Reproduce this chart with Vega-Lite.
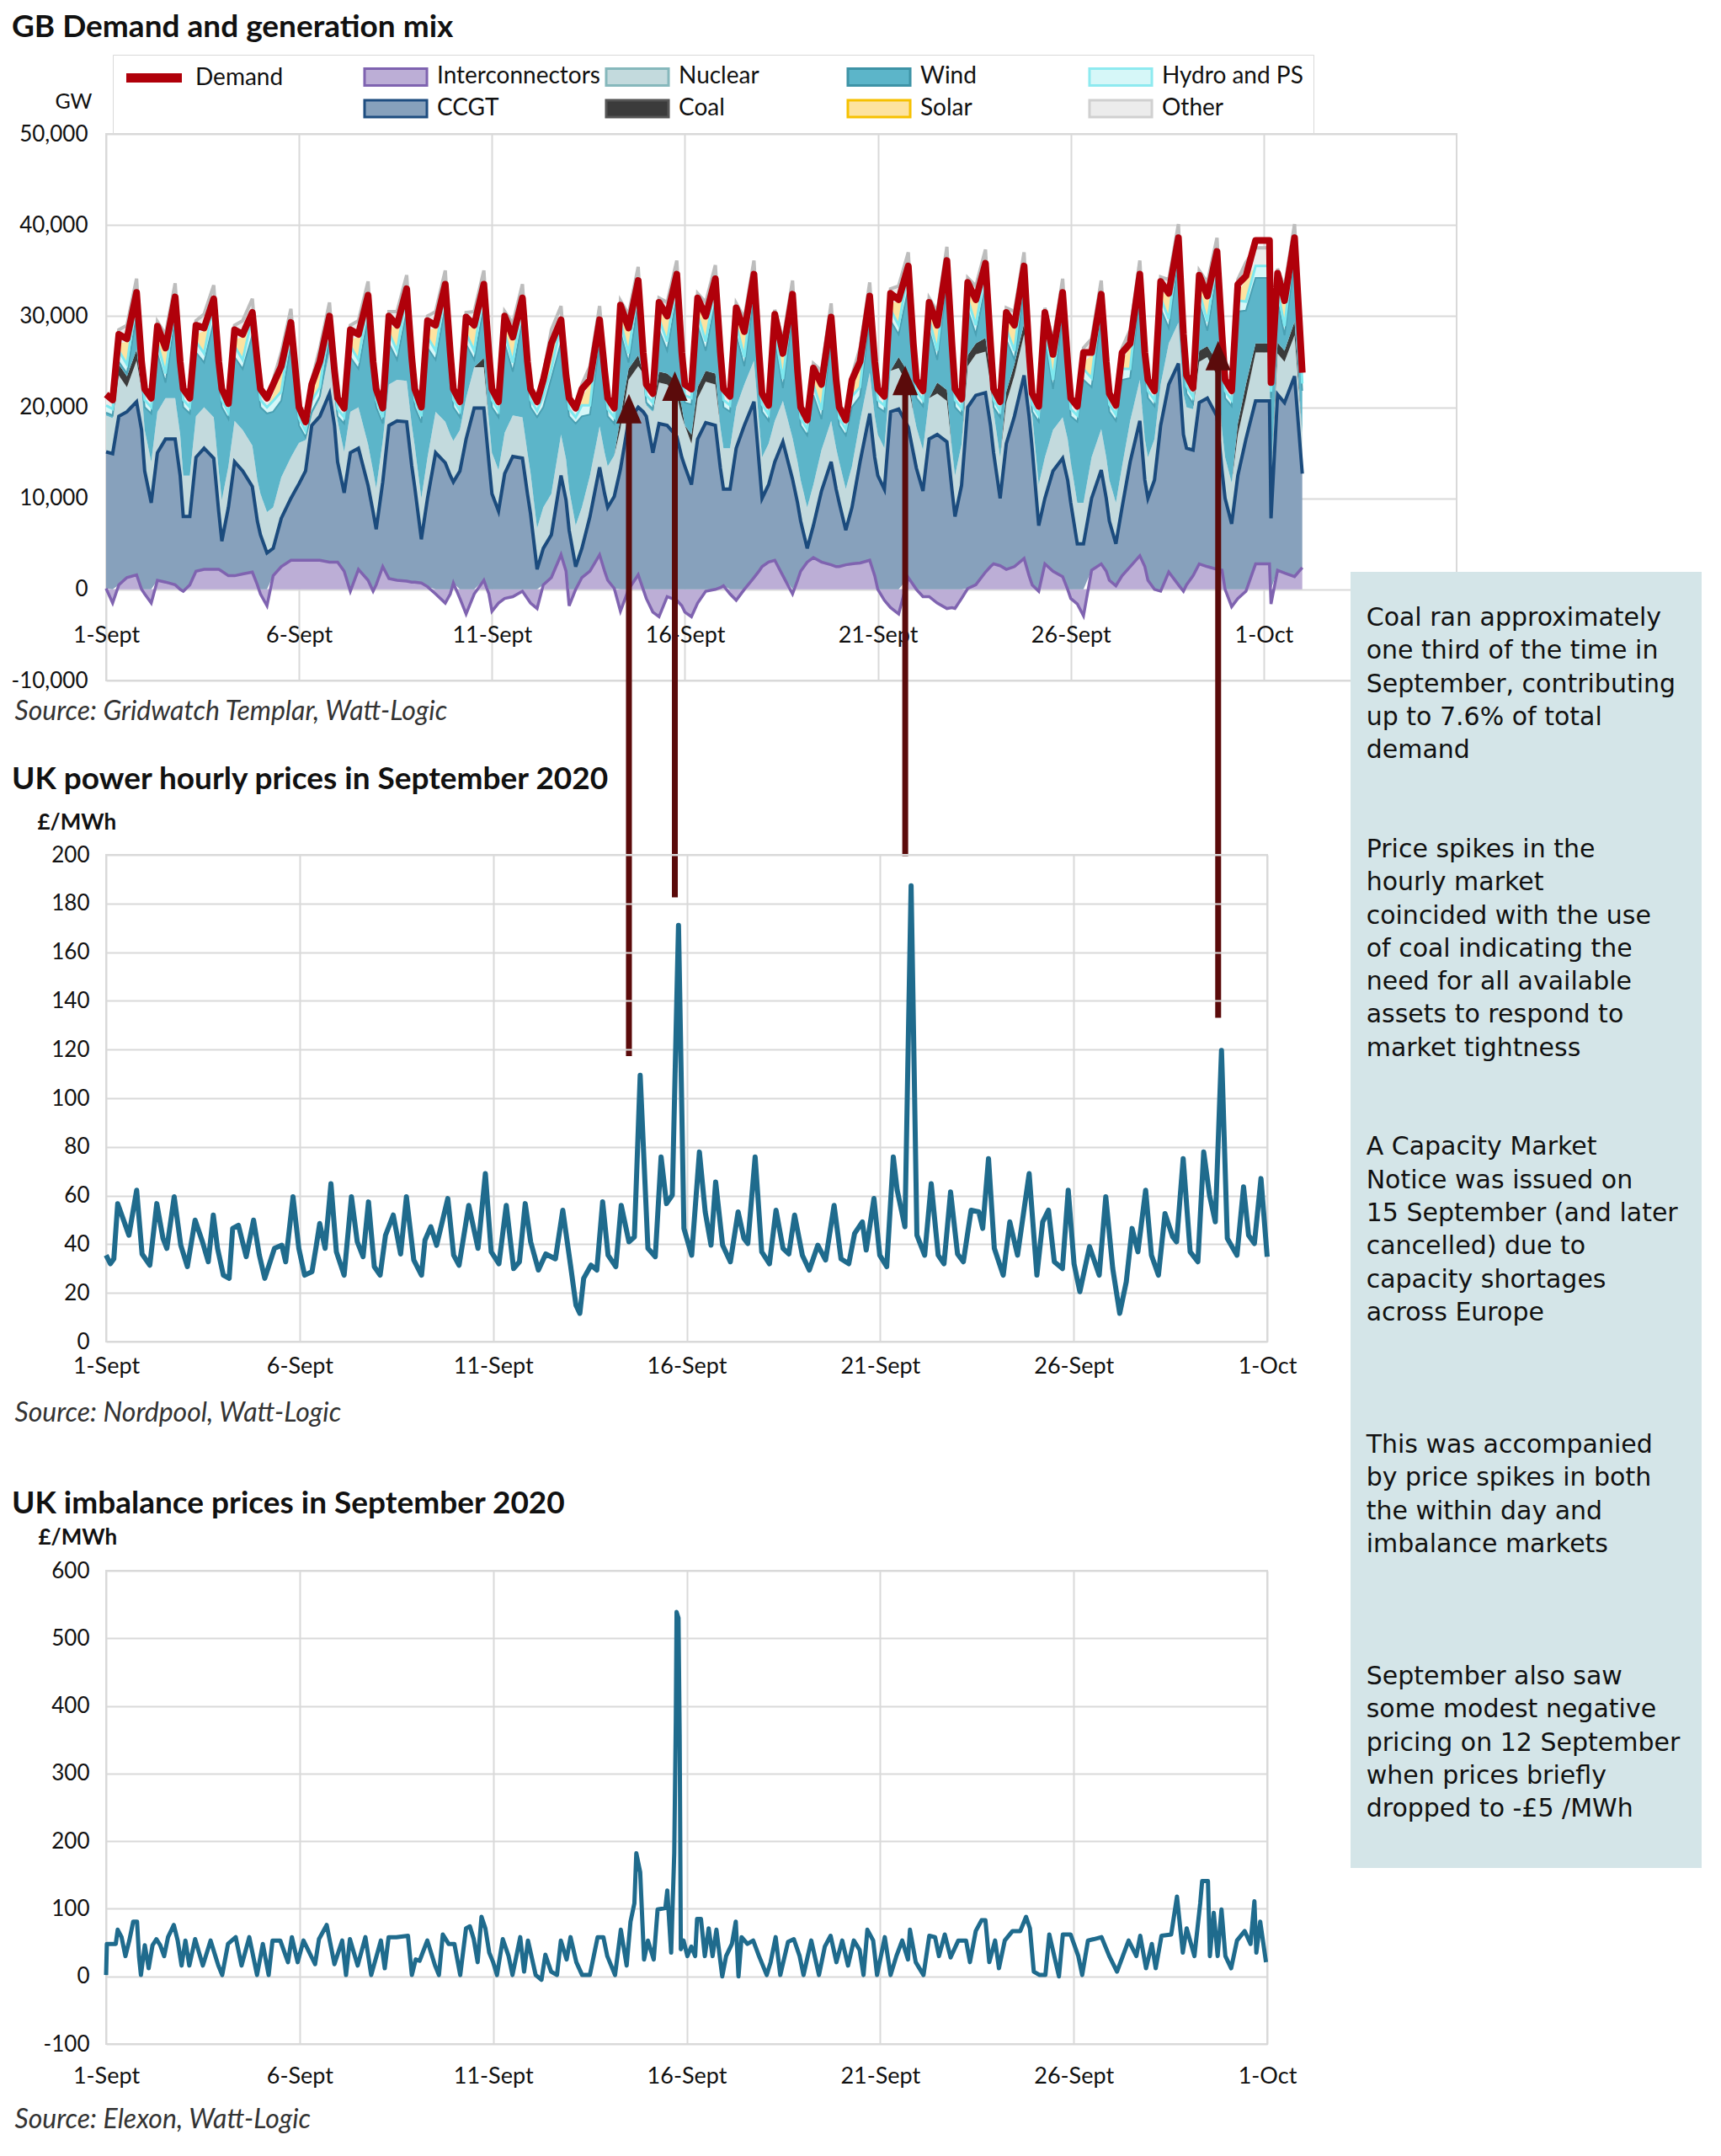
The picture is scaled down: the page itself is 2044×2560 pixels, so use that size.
{
"$schema":"https://vega.github.io/schema/vega-lite/v6.json",
"padding":{"left":12,"top":13,"right":0,"bottom":0},
"background":"white",
"datasets":{
"gen":[
{"d":0,"ic":0.1,"cc":15,"nu":4,"co":0,"wi":0.3,"hy":0.8,"so":0,"ot":1.2,"dm":21.4},
{"d":0.17,"ic":-1.5,"cc":14.9,"nu":3.9,"co":0,"wi":0.3,"hy":0.7,"so":0,"ot":1,"dm":20.8},
{"d":0.33,"ic":0.5,"cc":18.5,"nu":4.5,"co":1.2,"wi":0.3,"hy":1.2,"so":0.8,"ot":1.5,"dm":28},
{"d":0.54,"ic":1.3,"cc":18.2,"nu":2.7,"co":1.2,"wi":0.3,"hy":1,"so":2.5,"ot":1.8,"dm":27.5},
{"d":0.79,"ic":1.6,"cc":19,"nu":4.5,"co":1.2,"wi":3.8,"hy":2,"so":0.2,"ot":1.8,"dm":32.6},
{"d":0.92,"ic":0,"cc":17.5,"nu":4.5,"co":0,"wi":1,"hy":1,"so":0,"ot":1.3,"dm":25},
{"d":1,"ic":-0.5,"cc":13,"nu":4.5,"co":0,"wi":2.5,"hy":0.8,"so":0,"ot":1.2,"dm":22},
{"d":1.17,"ic":-1.5,"cc":9.5,"nu":4.5,"co":0,"wi":5.3,"hy":0.7,"so":0,"ot":1,"dm":21},
{"d":1.33,"ic":1,"cc":14,"nu":4.5,"co":0,"wi":6.4,"hy":1.2,"so":0.8,"ot":1.5,"dm":28.9},
{"d":1.54,"ic":0.8,"cc":15.7,"nu":4.5,"co":0,"wi":1.7,"hy":1,"so":2.5,"ot":1.8,"dm":26.5},
{"d":1.79,"ic":0.5,"cc":16,"nu":4.5,"co":0,"wi":8.6,"hy":2,"so":0.2,"ot":1.8,"dm":32.1},
{"d":1.92,"ic":0,"cc":12.5,"nu":4.5,"co":0,"wi":6,"hy":1,"so":0,"ot":1.3,"dm":25},
{"d":2,"ic":-0.2,"cc":8,"nu":4.5,"co":0,"wi":7.5,"hy":0.8,"so":0,"ot":1.2,"dm":22},
{"d":2.17,"ic":0.5,"cc":7.5,"nu":4.5,"co":0,"wi":6.8,"hy":0.7,"so":0,"ot":1,"dm":21},
{"d":2.33,"ic":2,"cc":12.5,"nu":4.5,"co":0,"wi":7,"hy":1.2,"so":0.8,"ot":1.5,"dm":29},
{"d":2.54,"ic":2.2,"cc":13.3,"nu":4.5,"co":0,"wi":4.9,"hy":1,"so":2.5,"ot":1.8,"dm":28.7},
{"d":2.79,"ic":2.2,"cc":12.2,"nu":4.5,"co":0,"wi":10.5,"hy":2,"so":0.2,"ot":1.8,"dm":31.9},
{"d":2.92,"ic":2.2,"cc":6.3,"nu":4.5,"co":0,"wi":10,"hy":1,"so":0,"ot":1.3,"dm":25},
{"d":3,"ic":2,"cc":3.3,"nu":4.5,"co":0,"wi":10.2,"hy":0.8,"so":0,"ot":1.2,"dm":22},
{"d":3.17,"ic":1.5,"cc":7.5,"nu":4.5,"co":0,"wi":5.2,"hy":0.7,"so":0,"ot":1,"dm":20.4},
{"d":3.33,"ic":1.5,"cc":12.5,"nu":4.5,"co":0,"wi":7,"hy":1.2,"so":0.8,"ot":1.5,"dm":28.5},
{"d":3.54,"ic":1.7,"cc":11.3,"nu":4.5,"co":0,"wi":6.7,"hy":1,"so":2.5,"ot":1.8,"dm":28},
{"d":3.79,"ic":1.9,"cc":9.4,"nu":4.5,"co":0,"wi":12.1,"hy":2,"so":0.2,"ot":1.8,"dm":30.4},
{"d":3.92,"ic":0.5,"cc":7,"nu":4.5,"co":0,"wi":11,"hy":1,"so":0,"ot":1.3,"dm":25},
{"d":4,"ic":-0.5,"cc":6,"nu":4.5,"co":0,"wi":9.5,"hy":0.8,"so":0,"ot":1.2,"dm":22},
{"d":4.17,"ic":-1.8,"cc":4,"nu":4.5,"co":0,"wi":10.8,"hy":0.7,"so":0,"ot":1,"dm":21},
{"d":4.33,"ic":1.5,"cc":3,"nu":4.5,"co":0,"wi":10.5,"hy":1.2,"so":0.8,"ot":1.5,"dm":22.5},
{"d":4.54,"ic":2.5,"cc":5.3,"nu":4.5,"co":0,"wi":8.4,"hy":1,"so":2.5,"ot":1.8,"dm":24.5},
{"d":4.79,"ic":3.2,"cc":6.8,"nu":4.5,"co":0,"wi":12.3,"hy":2,"so":0.2,"ot":1.8,"dm":29.3},
{"d":4.92,"ic":3.2,"cc":7.8,"nu":4.5,"co":0,"wi":6,"hy":1,"so":0,"ot":1.3,"dm":23.5},
{"d":5,"ic":3.2,"cc":8.4,"nu":4.5,"co":0,"wi":1.9,"hy":0.8,"so":0,"ot":1.2,"dm":20},
{"d":5.17,"ic":3.2,"cc":9.8,"nu":3.4,"co":0,"wi":0.3,"hy":0.7,"so":0,"ot":1,"dm":18.4},
{"d":5.33,"ic":3.2,"cc":14.8,"nu":1.2,"co":0,"wi":0.3,"hy":1.2,"so":0.8,"ot":1.5,"dm":22.5},
{"d":5.54,"ic":3.2,"cc":15.8,"nu":1.9,"co":0,"wi":0.3,"hy":1,"so":2.5,"ot":1.8,"dm":25},
{"d":5.79,"ic":3,"cc":18.5,"nu":4.5,"co":0,"wi":1.5,"hy":2,"so":0.2,"ot":1.8,"dm":30},
{"d":5.92,"ic":3,"cc":15,"nu":3.7,"co":0,"wi":0.3,"hy":1,"so":0,"ot":1.3,"dm":24},
{"d":6,"ic":3,"cc":11,"nu":4.5,"co":0,"wi":0.5,"hy":0.8,"so":0,"ot":1.2,"dm":21},
{"d":6.17,"ic":2,"cc":8.6,"nu":4.5,"co":0,"wi":3.1,"hy":0.7,"so":0,"ot":1,"dm":19.9},
{"d":6.33,"ic":-0.2,"cc":15,"nu":4.5,"co":0,"wi":6,"hy":1.2,"so":0.8,"ot":1.5,"dm":28.5},
{"d":6.54,"ic":2.2,"cc":13.3,"nu":4.5,"co":0,"wi":4.2,"hy":1,"so":2.5,"ot":1.8,"dm":28},
{"d":6.79,"ic":1,"cc":10.4,"nu":4.5,"co":0,"wi":13.9,"hy":2,"so":0.2,"ot":1.8,"dm":32.3},
{"d":6.92,"ic":-0.2,"cc":8.5,"nu":4.5,"co":0,"wi":10,"hy":1,"so":0,"ot":1.3,"dm":25},
{"d":7,"ic":0.5,"cc":6.1,"nu":4.5,"co":0,"wi":8.9,"hy":0.8,"so":0,"ot":1.2,"dm":22},
{"d":7.17,"ic":2.5,"cc":9.3,"nu":4.5,"co":0,"wi":1.9,"hy":0.7,"so":0,"ot":1,"dm":19.9},
{"d":7.33,"ic":1.2,"cc":16.8,"nu":4.5,"co":0,"wi":4.5,"hy":1.2,"so":0.8,"ot":1.5,"dm":30},
{"d":7.54,"ic":1,"cc":17.5,"nu":4.5,"co":0,"wi":2.2,"hy":1,"so":2.5,"ot":1.8,"dm":29},
{"d":7.79,"ic":0.9,"cc":17.5,"nu":4.5,"co":0,"wi":7.6,"hy":2,"so":0.2,"ot":1.8,"dm":33},
{"d":7.92,"ic":0.8,"cc":12.8,"nu":4.5,"co":0,"wi":5.4,"hy":1,"so":0,"ot":1.3,"dm":25.5},
{"d":8,"ic":0.8,"cc":10.4,"nu":4.5,"co":0,"wi":4.3,"hy":0.8,"so":0,"ot":1.2,"dm":22},
{"d":8.17,"ic":0.7,"cc":4.8,"nu":4.5,"co":0,"wi":8.3,"hy":0.7,"so":0,"ot":1,"dm":20},
{"d":8.33,"ic":0.3,"cc":9.7,"nu":4.5,"co":0,"wi":12,"hy":1.2,"so":0.8,"ot":1.5,"dm":29.5},
{"d":8.54,"ic":-0.5,"cc":15,"nu":4.5,"co":0,"wi":5.7,"hy":1,"so":2.5,"ot":1.8,"dm":29},
{"d":8.79,"ic":-1.5,"cc":13.9,"nu":4.5,"co":0,"wi":12.6,"hy":2,"so":0.2,"ot":1.8,"dm":33.5},
{"d":8.92,"ic":-0.5,"cc":12.5,"nu":4.5,"co":0,"wi":7,"hy":1,"so":0,"ot":1.3,"dm":26},
{"d":9,"ic":0.7,"cc":11.1,"nu":4.5,"co":0,"wi":3.7,"hy":0.8,"so":0,"ot":1.2,"dm":22},
{"d":9.17,"ic":-1,"cc":13,"nu":4.5,"co":0,"wi":1.4,"hy":0.7,"so":0,"ot":1,"dm":20.6},
{"d":9.33,"ic":-2.7,"cc":16.5,"nu":4.5,"co":0,"wi":5.9,"hy":1.2,"so":0.8,"ot":1.5,"dm":29.9},
{"d":9.54,"ic":-0.5,"cc":19.9,"nu":4.5,"co":0,"wi":0.8,"hy":1,"so":2.5,"ot":1.8,"dm":29},
{"d":9.79,"ic":1,"cc":18.9,"nu":4.5,"co":1,"wi":5.6,"hy":2,"so":0.2,"ot":1.8,"dm":33.5},
{"d":9.92,"ic":-0.5,"cc":14,"nu":4.5,"co":0,"wi":5.5,"hy":1,"so":0,"ot":1.3,"dm":26},
{"d":10,"ic":-2.4,"cc":10.5,"nu":4.5,"co":0,"wi":5,"hy":0.8,"so":0,"ot":1.2,"dm":22},
{"d":10.17,"ic":-1.5,"cc":8.6,"nu":4.5,"co":0,"wi":5.8,"hy":0.7,"so":0,"ot":1,"dm":20.6},
{"d":10.33,"ic":-1,"cc":12.7,"nu":4.5,"co":0,"wi":9.8,"hy":1.2,"so":0.8,"ot":1.5,"dm":30},
{"d":10.54,"ic":-0.8,"cc":14.6,"nu":4.5,"co":0,"wi":4.8,"hy":1,"so":2.5,"ot":1.8,"dm":27.7},
{"d":10.79,"ic":-0.2,"cc":14.4,"nu":4.5,"co":0,"wi":10.6,"hy":2,"so":0.2,"ot":1.8,"dm":32},
{"d":10.92,"ic":-1,"cc":10.5,"nu":4.5,"co":0,"wi":8,"hy":1,"so":0,"ot":1.3,"dm":25},
{"d":11,"ic":-1.5,"cc":8.3,"nu":4.5,"co":0,"wi":7.2,"hy":0.8,"so":0,"ot":1.2,"dm":22},
{"d":11.17,"ic":-2.1,"cc":2.2,"nu":4.5,"co":0,"wi":12.2,"hy":0.7,"so":0,"ot":1,"dm":20.6},
{"d":11.33,"ic":0.5,"cc":4,"nu":4.5,"co":0,"wi":11,"hy":1.2,"so":0.8,"ot":1.5,"dm":23},
{"d":11.54,"ic":1.3,"cc":4.7,"nu":4.5,"co":0,"wi":12.7,"hy":1,"so":2.5,"ot":1.8,"dm":27},
{"d":11.79,"ic":3.8,"cc":8.7,"nu":4.5,"co":0,"wi":10.1,"hy":2,"so":0.2,"ot":1.8,"dm":29.6},
{"d":11.92,"ic":2,"cc":7.8,"nu":4.5,"co":0,"wi":7.2,"hy":1,"so":0,"ot":1.3,"dm":23.5},
{"d":12,"ic":-1.8,"cc":6.5,"nu":4.5,"co":0,"wi":8,"hy":0.8,"so":0,"ot":1.2,"dm":21},
{"d":12.17,"ic":0,"cc":2.5,"nu":4.5,"co":0,"wi":11.2,"hy":0.7,"so":0,"ot":1,"dm":19.9},
{"d":12.33,"ic":1.3,"cc":3.2,"nu":4.5,"co":0,"wi":10,"hy":1.2,"so":0.8,"ot":1.5,"dm":22},
{"d":12.54,"ic":2,"cc":6,"nu":4.5,"co":0,"wi":6.7,"hy":1,"so":2.5,"ot":1.8,"dm":23},
{"d":12.79,"ic":3.8,"cc":9.6,"nu":4.5,"co":0,"wi":9.2,"hy":2,"so":0.2,"ot":1.8,"dm":29.6},
{"d":12.92,"ic":2,"cc":8.5,"nu":4.5,"co":0,"wi":7,"hy":1,"so":0,"ot":1.3,"dm":24},
{"d":13,"ic":1,"cc":8,"nu":4.5,"co":0,"wi":5.5,"hy":0.8,"so":0,"ot":1.2,"dm":21},
{"d":13.17,"ic":0.1,"cc":10.1,"nu":4.5,"co":0,"wi":3.5,"hy":0.7,"so":0,"ot":1,"dm":19.9},
{"d":13.33,"ic":-2.4,"cc":13.2,"nu":4.5,"co":1.2,"wi":9.3,"hy":1.2,"so":0.8,"ot":1.5,"dm":31.2},
{"d":13.54,"ic":0,"cc":18.5,"nu":4.5,"co":1.2,"wi":0.7,"hy":1,"so":2.5,"ot":1.8,"dm":28.7},
{"d":13.79,"ic":1.6,"cc":18.4,"nu":4.5,"co":1.2,"wi":5.7,"hy":2,"so":0.2,"ot":1.8,"dm":33.9},
{"d":13.92,"ic":0,"cc":19.5,"nu":4.2,"co":0,"wi":0.3,"hy":1,"so":0,"ot":1.3,"dm":26},
{"d":14,"ic":-1,"cc":19,"nu":1.2,"co":0,"wi":0.3,"hy":0.8,"so":0,"ot":1.2,"dm":22.5},
{"d":14.17,"ic":-2.5,"cc":15,"nu":4.5,"co":0,"wi":0.3,"hy":0.7,"so":0,"ot":1,"dm":21.5},
{"d":14.33,"ic":-3,"cc":18.2,"nu":4.5,"co":1.2,"wi":4.6,"hy":1.2,"so":0.8,"ot":1.5,"dm":31.5},
{"d":14.54,"ic":-0.8,"cc":18,"nu":4.5,"co":1.2,"wi":2.5,"hy":1,"so":2.5,"ot":1.8,"dm":30},
{"d":14.79,"ic":-1.2,"cc":16.8,"nu":4.5,"co":1.5,"wi":9.3,"hy":2,"so":0.2,"ot":1.8,"dm":34.6},
{"d":14.92,"ic":-1.8,"cc":14.5,"nu":4.5,"co":1,"wi":4,"hy":1,"so":0,"ot":1.3,"dm":26},
{"d":15,"ic":-2.5,"cc":13.5,"nu":4.5,"co":0,"wi":2.5,"hy":0.8,"so":0,"ot":1.2,"dm":22.5},
{"d":15.17,"ic":-3,"cc":11.5,"nu":4.5,"co":1,"wi":3.3,"hy":0.7,"so":0,"ot":1,"dm":22},
{"d":15.33,"ic":-1.5,"cc":16.5,"nu":4.5,"co":1.2,"wi":6.8,"hy":1.2,"so":0.8,"ot":1.5,"dm":32},
{"d":15.54,"ic":-0.2,"cc":18.3,"nu":4.5,"co":1.2,"wi":2.2,"hy":1,"so":2.5,"ot":1.8,"dm":30},
{"d":15.79,"ic":0,"cc":18,"nu":4.5,"co":1.2,"wi":7.9,"hy":2,"so":0.2,"ot":1.8,"dm":34.1},
{"d":15.92,"ic":0.2,"cc":13.1,"nu":4.5,"co":0,"wi":6.2,"hy":1,"so":0,"ot":1.3,"dm":26},
{"d":16,"ic":0.4,"cc":10.6,"nu":4.5,"co":0,"wi":4.5,"hy":0.8,"so":0,"ot":1.2,"dm":22},
{"d":16.17,"ic":-0.5,"cc":11,"nu":4.5,"co":0,"wi":4,"hy":0.7,"so":0,"ot":1,"dm":21.2},
{"d":16.33,"ic":-1.2,"cc":15.5,"nu":4.5,"co":0,"wi":7.9,"hy":1.2,"so":0.8,"ot":1.5,"dm":30.9},
{"d":16.54,"ic":0,"cc":18,"nu":4.5,"co":0,"wi":2,"hy":1,"so":2.5,"ot":1.8,"dm":28.3},
{"d":16.79,"ic":1.3,"cc":19.3,"nu":4.5,"co":0,"wi":7,"hy":2,"so":0.2,"ot":1.8,"dm":34.6},
{"d":16.92,"ic":2,"cc":12,"nu":4.5,"co":0,"wi":5.5,"hy":1,"so":0,"ot":1.3,"dm":26},
{"d":17,"ic":2.5,"cc":7.5,"nu":4.5,"co":0,"wi":5,"hy":0.8,"so":0,"ot":1.2,"dm":21.5},
{"d":17.17,"ic":3,"cc":8.5,"nu":4.5,"co":0,"wi":2.5,"hy":0.7,"so":0,"ot":1,"dm":20.2},
{"d":17.33,"ic":3.2,"cc":10.8,"nu":4.5,"co":0,"wi":8.7,"hy":1.2,"so":0.8,"ot":1.5,"dm":30.2},
{"d":17.54,"ic":1.5,"cc":14.7,"nu":4.5,"co":0,"wi":1.4,"hy":1,"so":2.5,"ot":1.8,"dm":25.9},
{"d":17.79,"ic":-0.5,"cc":12.1,"nu":4.5,"co":0,"wi":13.3,"hy":2,"so":0.2,"ot":1.8,"dm":32.4},
{"d":17.92,"ic":1,"cc":8.5,"nu":4.5,"co":0,"wi":8,"hy":1,"so":0,"ot":1.3,"dm":24},
{"d":18,"ic":2,"cc":5.5,"nu":4.5,"co":0,"wi":6,"hy":0.8,"so":0,"ot":1.2,"dm":20},
{"d":18.17,"ic":3,"cc":1.5,"nu":4.5,"co":0,"wi":7.9,"hy":0.7,"so":0,"ot":1,"dm":18.6},
{"d":18.33,"ic":3.5,"cc":3.5,"nu":4.5,"co":0,"wi":9.8,"hy":1.2,"so":0.8,"ot":1.5,"dm":24.3},
{"d":18.54,"ic":3,"cc":7.8,"nu":4.5,"co":0,"wi":3.4,"hy":1,"so":2.5,"ot":1.8,"dm":22.5},
{"d":18.79,"ic":2.7,"cc":11.3,"nu":4.5,"co":0,"wi":8.9,"hy":2,"so":0.2,"ot":1.8,"dm":29.9},
{"d":18.92,"ic":2.5,"cc":8.5,"nu":4.5,"co":0,"wi":5.5,"hy":1,"so":0,"ot":1.3,"dm":23},
{"d":19,"ic":2.5,"cc":7,"nu":4.5,"co":0,"wi":4,"hy":0.8,"so":0,"ot":1.2,"dm":20},
{"d":19.17,"ic":2.7,"cc":3.8,"nu":4.5,"co":0,"wi":5.9,"hy":0.7,"so":0,"ot":1,"dm":18.6},
{"d":19.33,"ic":2.8,"cc":6.2,"nu":4.5,"co":0,"wi":6.5,"hy":1.2,"so":0.8,"ot":1.5,"dm":23},
{"d":19.54,"ic":2.9,"cc":11.1,"nu":4.5,"co":0,"wi":2.7,"hy":1,"so":2.5,"ot":1.8,"dm":25},
{"d":19.79,"ic":3.2,"cc":16.1,"nu":4.5,"co":0,"wi":5.9,"hy":2,"so":0.2,"ot":1.8,"dm":32.2},
{"d":19.92,"ic":1.5,"cc":13,"nu":4.5,"co":0,"wi":4,"hy":1,"so":0,"ot":1.3,"dm":25},
{"d":20,"ic":0,"cc":12.5,"nu":4.5,"co":0,"wi":3,"hy":0.8,"so":0,"ot":1.2,"dm":22},
{"d":20.17,"ic":-1.2,"cc":11,"nu":4.5,"co":0,"wi":4,"hy":0.7,"so":0,"ot":1,"dm":21.2},
{"d":20.33,"ic":-2,"cc":19.5,"nu":4.5,"co":0,"wi":5.5,"hy":1.2,"so":0.8,"ot":1.5,"dm":32.5},
{"d":20.54,"ic":-2.7,"cc":19.8,"nu":4.5,"co":1.2,"wi":2.5,"hy":1,"so":2.5,"ot":1.8,"dm":31.8},
{"d":20.79,"ic":1.3,"cc":16.5,"nu":4.5,"co":1.5,"wi":9.2,"hy":2,"so":0.2,"ot":1.8,"dm":35.5},
{"d":20.92,"ic":0.5,"cc":14.5,"nu":4.5,"co":0,"wi":5.5,"hy":1,"so":0,"ot":1.3,"dm":27},
{"d":21,"ic":0,"cc":13.3,"nu":4.5,"co":0,"wi":3.2,"hy":0.8,"so":0,"ot":1.2,"dm":23},
{"d":21.17,"ic":-0.8,"cc":10.8,"nu":4.5,"co":0,"wi":4.8,"hy":0.7,"so":0,"ot":1,"dm":21.8},
{"d":21.33,"ic":-0.8,"cc":16.5,"nu":4.5,"co":0,"wi":7.5,"hy":1.2,"so":0.8,"ot":1.5,"dm":31.5},
{"d":21.54,"ic":-1.5,"cc":17,"nu":4.5,"co":1.2,"wi":2.5,"hy":1,"so":2.5,"ot":1.8,"dm":29},
{"d":21.79,"ic":-2.1,"cc":16.2,"nu":4.5,"co":1.2,"wi":11.7,"hy":2,"so":0.2,"ot":1.8,"dm":36.1},
{"d":21.92,"ic":-2,"cc":11,"nu":4.5,"co":0,"wi":9.5,"hy":1,"so":0,"ot":1.3,"dm":27},
{"d":22,"ic":-2.1,"cc":8,"nu":4.5,"co":0,"wi":7.5,"hy":0.8,"so":0,"ot":1.2,"dm":22},
{"d":22.17,"ic":-1,"cc":11.4,"nu":4.5,"co":0,"wi":3.3,"hy":0.7,"so":0,"ot":1,"dm":20.9},
{"d":22.33,"ic":0.1,"cc":19.9,"nu":4.5,"co":1.2,"wi":5,"hy":1.2,"so":0.8,"ot":1.5,"dm":33.7},
{"d":22.54,"ic":0.5,"cc":20.8,"nu":4.5,"co":1.2,"wi":1,"hy":1,"so":2.5,"ot":1.8,"dm":31.8},
{"d":22.79,"ic":1.9,"cc":19.7,"nu":4.5,"co":1.5,"wi":5.7,"hy":2,"so":0.2,"ot":1.8,"dm":35.8},
{"d":22.92,"ic":2.5,"cc":15.5,"nu":4.5,"co":1,"wi":1.5,"hy":1,"so":0,"ot":1.3,"dm":27},
{"d":23,"ic":2.8,"cc":12.2,"nu":4.5,"co":0,"wi":0.5,"hy":0.8,"so":0,"ot":1.2,"dm":22},
{"d":23.17,"ic":2.6,"cc":7.4,"nu":4.5,"co":0,"wi":4.4,"hy":0.7,"so":0,"ot":1,"dm":20.6},
{"d":23.33,"ic":2.2,"cc":13.8,"nu":4.5,"co":1.2,"wi":5.7,"hy":1.2,"so":0.8,"ot":1.5,"dm":30.4},
{"d":23.54,"ic":2.5,"cc":16.5,"nu":4.5,"co":1.2,"wi":0.5,"hy":1,"so":2.5,"ot":1.8,"dm":29},
{"d":23.79,"ic":3.4,"cc":20.1,"nu":4.5,"co":1.2,"wi":3.8,"hy":2,"so":0.2,"ot":1.8,"dm":35.5},
{"d":23.92,"ic":1.5,"cc":17.5,"nu":4.5,"co":0,"wi":0.5,"hy":1,"so":0,"ot":1.3,"dm":26},
{"d":24,"ic":0.5,"cc":15,"nu":3.7,"co":0,"wi":0.3,"hy":0.8,"so":0,"ot":1.2,"dm":21.5},
{"d":24.17,"ic":-0.2,"cc":7,"nu":4.5,"co":0,"wi":6.9,"hy":0.7,"so":0,"ot":1,"dm":20.1},
{"d":24.33,"ic":2.8,"cc":7.2,"nu":4.5,"co":0,"wi":12.9,"hy":1.2,"so":0.8,"ot":1.5,"dm":30.4},
{"d":24.54,"ic":2,"cc":11,"nu":4.5,"co":0,"wi":4.5,"hy":1,"so":2.5,"ot":1.8,"dm":25.8},
{"d":24.79,"ic":1.4,"cc":13,"nu":4.5,"co":0,"wi":11.2,"hy":2,"so":0.2,"ot":1.8,"dm":32.6},
{"d":24.92,"ic":0,"cc":12,"nu":4.5,"co":0,"wi":6.5,"hy":1,"so":0,"ot":1.3,"dm":25},
{"d":25,"ic":-1,"cc":9.5,"nu":4.5,"co":0,"wi":5,"hy":0.8,"so":0,"ot":1.2,"dm":21},
{"d":25.17,"ic":-1.6,"cc":5,"nu":4.5,"co":0,"wi":8.9,"hy":0.7,"so":0,"ot":1,"dm":20.1},
{"d":25.33,"ic":-2.9,"cc":5,"nu":4.5,"co":0,"wi":13.5,"hy":1.2,"so":0.8,"ot":1.5,"dm":26},
{"d":25.54,"ic":2.1,"cc":7.9,"nu":4.5,"co":0,"wi":7.7,"hy":1,"so":2.5,"ot":1.8,"dm":26},
{"d":25.79,"ic":2.8,"cc":10.3,"nu":4.5,"co":0,"wi":12.3,"hy":2,"so":0.2,"ot":1.8,"dm":32.4},
{"d":25.92,"ic":2,"cc":8,"nu":4.5,"co":0,"wi":8.5,"hy":1,"so":0,"ot":1.3,"dm":25},
{"d":26,"ic":1,"cc":6.5,"nu":4.5,"co":0,"wi":7.5,"hy":0.8,"so":0,"ot":1.2,"dm":21.5},
{"d":26.17,"ic":0.4,"cc":4.6,"nu":4.5,"co":0,"wi":9,"hy":0.7,"so":0,"ot":1,"dm":20.2},
{"d":26.33,"ic":1.5,"cc":7.5,"nu":4.5,"co":0,"wi":9.5,"hy":1.2,"so":0.8,"ot":1.5,"dm":26},
{"d":26.54,"ic":2.5,"cc":11.5,"nu":4.5,"co":0,"wi":4.7,"hy":1,"so":2.5,"ot":1.8,"dm":27},
{"d":26.79,"ic":3.7,"cc":14.8,"nu":4.5,"co":0,"wi":9.1,"hy":2,"so":0.2,"ot":1.8,"dm":34.6},
{"d":26.92,"ic":2.5,"cc":9.5,"nu":4.5,"co":0,"wi":7.5,"hy":1,"so":0,"ot":1.3,"dm":26},
{"d":27,"ic":1,"cc":9,"nu":4.5,"co":0,"wi":6.5,"hy":0.8,"so":0,"ot":1.2,"dm":23},
{"d":27.17,"ic":0,"cc":12,"nu":4.5,"co":0,"wi":3.6,"hy":0.7,"so":0,"ot":1,"dm":21.8},
{"d":27.33,"ic":-0.2,"cc":18,"nu":4.5,"co":0,"wi":8.3,"hy":1.2,"so":0.8,"ot":1.5,"dm":33.8},
{"d":27.54,"ic":1.9,"cc":20.6,"nu":4.5,"co":0,"wi":1.7,"hy":1,"so":2.5,"ot":1.8,"dm":32.5},
{"d":27.79,"ic":0.5,"cc":24.3,"nu":4.5,"co":0,"wi":6.8,"hy":2,"so":0.2,"ot":1.8,"dm":38.6},
{"d":27.92,"ic":-0.2,"cc":17,"nu":4.5,"co":0,"wi":4.5,"hy":1,"so":0,"ot":1.3,"dm":28},
{"d":28,"ic":0.5,"cc":15,"nu":4.5,"co":0,"wi":1.5,"hy":0.8,"so":0,"ot":1.2,"dm":23.5},
{"d":28.17,"ic":1.5,"cc":13.8,"nu":4.5,"co":0,"wi":0.6,"hy":0.7,"so":0,"ot":1,"dm":22.1},
{"d":28.33,"ic":2.8,"cc":17.7,"nu":4.5,"co":1.2,"wi":5.3,"hy":1.2,"so":0.8,"ot":1.5,"dm":34.5},
{"d":28.54,"ic":2.5,"cc":18.5,"nu":4.5,"co":1.2,"wi":1.7,"hy":1,"so":2.5,"ot":1.8,"dm":32.2},
{"d":28.79,"ic":2.2,"cc":16.8,"nu":4.5,"co":1.5,"wi":9.6,"hy":2,"so":0.2,"ot":1.8,"dm":37.1},
{"d":28.92,"ic":2.1,"cc":10.9,"nu":4.5,"co":0,"wi":8.5,"hy":1,"so":0,"ot":1.3,"dm":28},
{"d":29,"ic":0,"cc":10,"nu":4.5,"co":0,"wi":6.5,"hy":0.8,"so":0,"ot":1.2,"dm":23},
{"d":29.17,"ic":-1.9,"cc":7.2,"nu":4.5,"co":0,"wi":8.4,"hy":0.7,"so":0,"ot":1,"dm":21.8},
{"d":29.33,"ic":-1,"cc":12.5,"nu":4.5,"co":1.2,"wi":12.3,"hy":1.2,"so":0.8,"ot":1.5,"dm":33.5},
{"d":29.54,"ic":-0.2,"cc":16.5,"nu":4.5,"co":1.5,"wi":8.1,"hy":1,"so":2.5,"ot":1.8,"dm":34.4},
{"d":29.79,"ic":2.8,"cc":17.9,"nu":5.3,"co":1,"wi":7.2,"hy":1.3,"so":0,"ot":2,"dm":38.3},
{"d":29.92,"ic":2.8,"cc":17.9,"nu":5.3,"co":1,"wi":7.2,"hy":1.3,"so":0,"ot":2,"dm":38.3},
{"d":30,"ic":2.8,"cc":17.9,"nu":5.3,"co":1,"wi":7.2,"hy":1.3,"so":0,"ot":2,"dm":38.3},
{"d":30.15,"ic":2.8,"cc":17.9,"nu":5.3,"co":1,"wi":7.2,"hy":1.3,"so":0,"ot":2,"dm":38.3},
{"d":30.19,"ic":-1.6,"cc":7.8,"nu":4.5,"co":0,"wi":8.7,"hy":0.7,"so":0,"ot":1,"dm":22.7},
{"d":30.36,"ic":2.1,"cc":19.3,"nu":4.5,"co":1.2,"wi":4.6,"hy":1.2,"so":0.8,"ot":1.5,"dm":34.7},
{"d":30.54,"ic":1.8,"cc":18.7,"nu":4.5,"co":1.2,"wi":1.7,"hy":1,"so":2.5,"ot":1.8,"dm":31.7},
{"d":30.8,"ic":1.4,"cc":22,"nu":4.5,"co":1.5,"wi":6.7,"hy":2,"so":0.2,"ot":1.8,"dm":38.6},
{"d":31,"ic":2.4,"cc":10.3,"nu":4.5,"co":0,"wi":4.6,"hy":0.8,"so":0,"ot":1.2,"dm":23.8}
],
"hp":[
{"d":0,"p":35.5},{"d":0.11,"p":32},{"d":0.2,"p":34},{"d":0.3,"p":56.7},{"d":0.45,"p":50},{"d":0.59,"p":43.7},{"d":0.79,"p":62.2},{"d":0.93,"p":36},{"d":1.13,"p":31.4},{"d":1.31,"p":56.7},{"d":1.47,"p":42.4},{"d":1.57,"p":38.3},{"d":1.76,"p":59.5},{"d":1.93,"p":39.6},{"d":2.1,"p":30.8},{"d":2.3,"p":49.9},{"d":2.49,"p":41},{"d":2.64,"p":32.8},{"d":2.77,"p":52},{"d":2.88,"p":38.3},{"d":3.03,"p":27.3},{"d":3.18,"p":26},{"d":3.27,"p":46.5},{"d":3.42,"p":47.8},{"d":3.62,"p":34.9},{"d":3.81,"p":49.9},{"d":3.96,"p":35.5},{"d":4.1,"p":26},{"d":4.35,"p":38.3},{"d":4.54,"p":39.6},{"d":4.64,"p":32.8},{"d":4.83,"p":59.5},{"d":4.98,"p":38.3},{"d":5.13,"p":27.3},{"d":5.32,"p":28.7},{"d":5.42,"p":38.3},{"d":5.52,"p":48.5},{"d":5.66,"p":38.3},{"d":5.81,"p":64.9},{"d":5.95,"p":36.9},{"d":6.15,"p":27.3},{"d":6.34,"p":59.5},{"d":6.49,"p":41},{"d":6.64,"p":34.9},{"d":6.78,"p":57.4},{"d":6.93,"p":30.8},{"d":7.08,"p":27.3},{"d":7.22,"p":43.7},{"d":7.42,"p":52},{"d":7.61,"p":36},{"d":7.76,"p":59.5},{"d":7.95,"p":33.5},{"d":8.15,"p":27.3},{"d":8.24,"p":41.7},{"d":8.39,"p":47.2},{"d":8.54,"p":39.6},{"d":8.83,"p":58.8},{"d":8.98,"p":35.5},{"d":9.12,"p":31.4},{"d":9.37,"p":56},{"d":9.61,"p":38.3},{"d":9.8,"p":69},{"d":9.95,"p":36.9},{"d":10.15,"p":32},{"d":10.34,"p":56},{"d":10.53,"p":30},{"d":10.68,"p":32.8},{"d":10.83,"p":56.7},{"d":10.97,"p":41},{"d":11.17,"p":29.4},{"d":11.36,"p":36},{"d":11.61,"p":34},{"d":11.8,"p":54},{"d":12,"p":31.4},{"d":12.14,"p":15},{"d":12.24,"p":11.6},{"d":12.34,"p":26},{"d":12.53,"p":31.4},{"d":12.68,"p":29.4},{"d":12.83,"p":57.4},{"d":12.97,"p":35.5},{"d":13.17,"p":30.8},{"d":13.31,"p":56},{"d":13.51,"p":41},{"d":13.65,"p":43},{"d":13.8,"p":109.4},{"d":14,"p":38.3},{"d":14.19,"p":34.9},{"d":14.34,"p":75.9},{"d":14.48,"p":56.7},{"d":14.63,"p":60.2},{"d":14.79,"p":171},{"d":14.93,"p":46.5},{"d":15.13,"p":35.5},{"d":15.33,"p":77.9},{"d":15.48,"p":53.3},{"d":15.63,"p":39.6},{"d":15.75,"p":65.6},{"d":15.93,"p":39.6},{"d":16.13,"p":32.8},{"d":16.33,"p":53.3},{"d":16.48,"p":42.4},{"d":16.58,"p":40.3},{"d":16.77,"p":75.9},{"d":16.94,"p":36.9},{"d":17.14,"p":32},{"d":17.31,"p":54},{"d":17.49,"p":38.3},{"d":17.64,"p":36},{"d":17.79,"p":52},{"d":17.99,"p":35.5},{"d":18.17,"p":29.4},{"d":18.39,"p":39.6},{"d":18.59,"p":33.5},{"d":18.81,"p":56},{"d":18.99,"p":34},{"d":19.19,"p":32},{"d":19.34,"p":44.4},{"d":19.54,"p":49.2},{"d":19.64,"p":37.6},{"d":19.84,"p":58.8},{"d":19.99,"p":35.5},{"d":20.17,"p":30.8},{"d":20.34,"p":75.9},{"d":20.44,"p":62.2},{"d":20.64,"p":47.2},{"d":20.8,"p":187.3},{"d":20.95,"p":43.7},{"d":21.15,"p":35.5},{"d":21.32,"p":64.9},{"d":21.5,"p":35.5},{"d":21.65,"p":32},{"d":21.82,"p":61.5},{"d":22,"p":36},{"d":22.15,"p":32.8},{"d":22.35,"p":54},{"d":22.55,"p":53.3},{"d":22.65,"p":46.5},{"d":22.8,"p":75.2},{"d":22.95,"p":38.3},{"d":23.18,"p":27.3},{"d":23.35,"p":49.2},{"d":23.55,"p":35.5},{"d":23.85,"p":69},{"d":24.05,"p":27.3},{"d":24.2,"p":49.2},{"d":24.35,"p":54},{"d":24.5,"p":32.8},{"d":24.71,"p":30},{"d":24.86,"p":62.2},{"d":25.01,"p":32},{"d":25.16,"p":20.5},{"d":25.41,"p":39},{"d":25.66,"p":27.3},{"d":25.83,"p":59.5},{"d":26.01,"p":30},{"d":26.19,"p":11.6},{"d":26.36,"p":24.6},{"d":26.51,"p":46.5},{"d":26.66,"p":36.9},{"d":26.86,"p":62.2},{"d":27.01,"p":35.5},{"d":27.19,"p":27.3},{"d":27.36,"p":52.6},{"d":27.56,"p":43},{"d":27.66,"p":41},{"d":27.83,"p":75.2},{"d":28.01,"p":36.9},{"d":28.21,"p":32.8},{"d":28.36,"p":77.9},{"d":28.51,"p":60.2},{"d":28.66,"p":49.2},{"d":28.82,"p":119.6},{"d":28.97,"p":42.4},{"d":29.22,"p":35.5},{"d":29.39,"p":63.6},{"d":29.52,"p":43.7},{"d":29.67,"p":40.3},{"d":29.84,"p":67},{"d":30,"p":34.9}
],
"ip":[
{"d":0,"p":2},{"d":0.02,"p":48},{"d":0.1,"p":48},{"d":0.25,"p":48},{"d":0.3,"p":69},{"d":0.4,"p":58},{"d":0.5,"p":30},{"d":0.6,"p":53},{"d":0.7,"p":81},{"d":0.8,"p":81},{"d":0.85,"p":30},{"d":0.9,"p":2},{"d":1,"p":46},{"d":1.1,"p":12},{"d":1.2,"p":46},{"d":1.3,"p":55},{"d":1.4,"p":46},{"d":1.5,"p":30},{"d":1.6,"p":58},{"d":1.75,"p":76},{"d":1.85,"p":53},{"d":1.95,"p":16},{"d":2.05,"p":53},{"d":2.15,"p":16},{"d":2.3,"p":55},{"d":2.5,"p":16},{"d":2.7,"p":53},{"d":2.9,"p":16},{"d":3,"p":2},{"d":3.15,"p":48},{"d":3.35,"p":58},{"d":3.5,"p":16},{"d":3.7,"p":58},{"d":3.9,"p":2},{"d":4.05,"p":48},{"d":4.2,"p":2},{"d":4.3,"p":53},{"d":4.5,"p":53},{"d":4.7,"p":21},{"d":4.8,"p":58},{"d":4.95,"p":21},{"d":5.1,"p":53},{"d":5.4,"p":18},{"d":5.5,"p":55},{"d":5.7,"p":76},{"d":5.9,"p":18},{"d":6.1,"p":53},{"d":6.2,"p":2},{"d":6.3,"p":55},{"d":6.5,"p":16},{"d":6.7,"p":58},{"d":6.85,"p":2},{"d":7.1,"p":53},{"d":7.2,"p":12},{"d":7.3,"p":58},{"d":7.5,"p":58},{"d":7.8,"p":60},{"d":7.9,"p":2},{"d":8,"p":25},{"d":8.1,"p":23},{"d":8.3,"p":53},{"d":8.5,"p":16},{"d":8.6,"p":2},{"d":8.7,"p":62},{"d":8.85,"p":48},{"d":9,"p":48},{"d":9.15,"p":2},{"d":9.3,"p":71},{"d":9.4,"p":74},{"d":9.5,"p":55},{"d":9.6,"p":21},{"d":9.7,"p":88},{"d":9.8,"p":71},{"d":9.9,"p":35},{"d":10,"p":21},{"d":10.1,"p":2},{"d":10.25,"p":55},{"d":10.4,"p":30},{"d":10.5,"p":2},{"d":10.6,"p":30},{"d":10.7,"p":58},{"d":10.8,"p":7},{"d":10.9,"p":53},{"d":11.1,"p":2},{"d":11.25,"p":-5},{"d":11.35,"p":32},{"d":11.5,"p":7},{"d":11.65,"p":2},{"d":11.75,"p":53},{"d":11.9,"p":25},{"d":12,"p":58},{"d":12.15,"p":21},{"d":12.3,"p":2},{"d":12.5,"p":2},{"d":12.7,"p":58},{"d":12.85,"p":58},{"d":12.95,"p":30},{"d":13.15,"p":2},{"d":13.3,"p":69},{"d":13.45,"p":16},{"d":13.55,"p":81},{"d":13.65,"p":108},{"d":13.7,"p":182},{"d":13.8,"p":154},{"d":13.9,"p":25},{"d":14,"p":53},{"d":14.15,"p":25},{"d":14.25,"p":99},{"d":14.45,"p":101},{"d":14.5,"p":127},{"d":14.6,"p":35},{"d":14.68,"p":182},{"d":14.72,"p":376},{"d":14.74,"p":539},{"d":14.79,"p":530},{"d":14.82,"p":357},{"d":14.85,"p":40},{"d":14.92,"p":53},{"d":15.02,"p":30},{"d":15.12,"p":44},{"d":15.22,"p":30},{"d":15.27,"p":85},{"d":15.37,"p":85},{"d":15.47,"p":30},{"d":15.57,"p":71},{"d":15.67,"p":30},{"d":15.77,"p":69},{"d":15.92,"p":0},{"d":16.02,"p":30},{"d":16.17,"p":48},{"d":16.27,"p":81},{"d":16.34,"p":0},{"d":16.42,"p":58},{"d":16.57,"p":48},{"d":16.72,"p":53},{"d":16.87,"p":30},{"d":17.07,"p":2},{"d":17.17,"p":21},{"d":17.3,"p":58},{"d":17.42,"p":2},{"d":17.62,"p":51},{"d":17.77,"p":55},{"d":17.92,"p":30},{"d":18.02,"p":2},{"d":18.22,"p":53},{"d":18.42,"p":2},{"d":18.57,"p":44},{"d":18.72,"p":60},{"d":18.87,"p":21},{"d":19.02,"p":53},{"d":19.17,"p":16},{"d":19.32,"p":53},{"d":19.47,"p":39},{"d":19.57,"p":2},{"d":19.67,"p":69},{"d":19.82,"p":53},{"d":19.92,"p":2},{"d":20.12,"p":58},{"d":20.27,"p":2},{"d":20.42,"p":30},{"d":20.57,"p":53},{"d":20.72,"p":25},{"d":20.77,"p":69},{"d":20.92,"p":21},{"d":21.12,"p":2},{"d":21.27,"p":60},{"d":21.42,"p":58},{"d":21.52,"p":30},{"d":21.67,"p":62},{"d":21.82,"p":28},{"d":22.02,"p":53},{"d":22.22,"p":53},{"d":22.32,"p":21},{"d":22.47,"p":67},{"d":22.62,"p":83},{"d":22.72,"p":83},{"d":22.82,"p":21},{"d":22.97,"p":53},{"d":23.07,"p":12},{"d":23.22,"p":53},{"d":23.42,"p":67},{"d":23.62,"p":67},{"d":23.77,"p":88},{"d":23.87,"p":71},{"d":23.97,"p":7},{"d":24.12,"p":2},{"d":24.27,"p":2},{"d":24.37,"p":62},{"d":24.62,"p":0},{"d":24.72,"p":62},{"d":24.92,"p":62},{"d":25.12,"p":30},{"d":25.22,"p":2},{"d":25.37,"p":53},{"d":25.52,"p":55},{"d":25.72,"p":58},{"d":25.92,"p":30},{"d":26.12,"p":7},{"d":26.27,"p":30},{"d":26.42,"p":53},{"d":26.62,"p":30},{"d":26.72,"p":60},{"d":26.87,"p":12},{"d":27.02,"p":48},{"d":27.12,"p":12},{"d":27.27,"p":60},{"d":27.52,"p":62},{"d":27.67,"p":118},{"d":27.82,"p":35},{"d":27.92,"p":71},{"d":28.12,"p":30},{"d":28.27,"p":108},{"d":28.32,"p":141},{"d":28.47,"p":141},{"d":28.52,"p":30},{"d":28.62,"p":94},{"d":28.72,"p":30},{"d":28.82,"p":99},{"d":28.92,"p":30},{"d":29.07,"p":12},{"d":29.22,"p":53},{"d":29.42,"p":67},{"d":29.57,"p":48},{"d":29.67,"p":111},{"d":29.72,"p":35},{"d":29.82,"p":81},{"d":29.97,"p":21}
]
},
"bounds":"flush",
"spacing":1478,
"hconcat":[
{
"bounds":"flush",
"spacing":0,
"vconcat":[
{
"width":1604,"height":649,
"title":{"text":"GB Demand and generation mix","offset":56},
"layer":[
{
"data":{"name":"gen"},
"transform":[
{"fold":["ic","cc","nu","co","wi","hy","so","ot"],"as":["k","v"]},
{"lookup":"k","from":{"data":{"values":[{"k":"ic","o":1},{"k":"cc","o":2},{"k":"nu","o":3},{"k":"co","o":4},{"k":"wi","o":5},{"k":"hy","o":6},{"k":"so","o":7},{"k":"ot","o":8}]},"key":"k","fields":["o"]}},
{"stack":"v","groupby":["d"],"sort":[{"field":"o","order":"ascending"}],"as":["v0","v1"]}
],
"layer":[
{"mark":{"type":"area","opacity":1},
"encoding":{
"x":{"field":"d","type":"quantitative","scale":{"domain":[0,35],"nice":false,"zero":false},
"axis":{"values":[0,5,10,15,20,25,30],"labelExpr":"datum.value==30?'1-Oct':(datum.value+1)+'-Sept'","offset":-54,"labelPadding":0,"labelBaseline":"middle","labelFontSize":27,"title":"Source: Gridwatch Templar, Watt-Logic","titleX":-109,"titleY":100,"titleAlign":"left","titleBaseline":"alphabetic","titleFontStyle":"italic","titleFontWeight":"normal","titleFontSize":32,"titleColor":"#333333"}},
"y":{"field":"v1","type":"quantitative","stack":null,"scale":{"domain":[-10,50],"nice":false,"zero":false},
"axis":{"values":[-10,0,10,20,30,40,50],"labelExpr":"replace(format(datum.value*1000, ','), '\u2212', '-')","labelPadding":22,"title":"GW","titleAngle":0,"titleAlign":"right","titleX":-17,"titleY":-31,"titleBaseline":"alphabetic","titleFontWeight":"normal","titleFontSize":25}},
"y2":{"field":"v0"},
"fill":{"field":"k","type":"nominal","scale":{"domain":["dm","ic","nu","wi","hy","zz","cc","co","so","ot"],"range":["#b0000a","#bcaed6","#c3dadd","#5cb5c9","#d6f7f8","rgba(0,0,0,0)","#87a1bc","#3b3b3b","#fde3a0","#ececec"]}}
}},
{"transform":[{"filter":"datum.k=='ic'"}],"mark":{"type":"line","color":"#7f63b0","strokeWidth":3.5},"encoding":{"x":{"field":"d","type":"quantitative"},"y":{"field":"v1","type":"quantitative"}}},
{"transform":[{"filter":"datum.k=='wi'"}],"mark":{"type":"line","color":"#4aa0b3","strokeWidth":2},"encoding":{"x":{"field":"d","type":"quantitative"},"y":{"field":"v1","type":"quantitative"}}},
{"transform":[{"filter":"datum.k=='hy'"}],"mark":{"type":"line","color":"#7ee8ef","strokeWidth":3},"encoding":{"x":{"field":"d","type":"quantitative"},"y":{"field":"v1","type":"quantitative"}}},
{"transform":[{"filter":"datum.k=='ot'"}],"mark":{"type":"line","color":"#bdbdbd","strokeWidth":4},"encoding":{"x":{"field":"d","type":"quantitative"},"y":{"field":"v1","type":"quantitative"}}},
{"transform":[{"filter":"datum.k=='cc'"}],"mark":{"type":"line","color":"#1b4b7d","strokeWidth":4},"encoding":{"x":{"field":"d","type":"quantitative"},"y":{"field":"v1","type":"quantitative"}}},
{"transform":[{"filter":"datum.k=='cc'"}],"mark":{"type":"line","color":"#b0000a","strokeWidth":8,"strokeJoin":"round"},"encoding":{"x":{"field":"d","type":"quantitative"},"y":{"field":"dm","type":"quantitative"}}}
]
},
{
"data":{"values":[]},
"mark":{"type":"point","filled":true,"opacity":1},
"encoding":{
"fill":{"field":"k","type":"nominal","scale":{"domain":["dm","ic","nu","wi","hy","zz","cc","co","so","ot"],"range":["#b0000a","#bcaed6","#c3dadd","#5cb5c9","#d6f7f8","rgba(0,0,0,0)","#87a1bc","#3b3b3b","#fde3a0","#ececec"]},
"legend":{"title":null,"orient":"none","legendX":8,"legendY":-94,"columns":5,"direction":"horizontal","gridAlign":"all","columnPadding":0,"rowPadding":4,"padding":12,"strokeColor":"#d9d9d9","fillColor":"#ffffff","symbolSize":529,"symbolStrokeWidth":3,"symbolOffset":23,"labelOffset":35,"labelFont":"Lato","labelFontSize":28,"labelColor":"#111111","labelLimit":400,
"labelExpr":"datum.label=='dm'?'Demand':datum.label=='ic'?'Interconnectors':datum.label=='nu'?'Nuclear':datum.label=='wi'?'Wind':datum.label=='hy'?'Hydro and PS':datum.label=='cc'?'CCGT':datum.label=='co'?'Coal':datum.label=='so'?'Solar':datum.label=='ot'?'Other':''"}},
"stroke":{"field":"k","type":"nominal","scale":{"domain":["dm","ic","nu","wi","hy","zz","cc","co","so","ot"],"range":["#b0000a","#7f63b0","#86b8bc","#3e93a6","#8eeaf0","rgba(0,0,0,0)","#1e4d80","#555555","#f6c100","#d0d0d0"]}},
"shape":{"field":"k","type":"nominal","scale":{"domain":["dm","ic","nu","wi","hy","zz","cc","co","so","ot"],"range":["M-2.74,-0.35H2.74V0.35H-2.74Z","M-3.22,-0.87H3.22V0.87H-3.22Z","M-3.22,-0.87H3.22V0.87H-3.22Z","M-3.22,-0.87H3.22V0.87H-3.22Z","M-3.22,-0.87H3.22V0.87H-3.22Z","M-3.22,-0.87H3.22V0.87H-3.22Z","M-3.22,-0.87H3.22V0.87H-3.22Z","M-3.22,-0.87H3.22V0.87H-3.22Z","M-3.22,-0.87H3.22V0.87H-3.22Z","M-3.22,-0.87H3.22V0.87H-3.22Z"]}}
}
},
{
"data":{"values":[{"d":13.55,"g":21.46,"b":-51.23},{"d":14.74,"g":23.93,"b":-33.8},{"d":20.71,"g":24.55,"b":-29.3},{"d":28.82,"g":27.29,"b":-47.03}]},
"layer":[
{"mark":{"type":"rule","color":"#5b0b0b","strokeWidth":7,"yOffset":10},"encoding":{"x":{"field":"d","type":"quantitative"},"y":{"field":"g","type":"quantitative"},"y2":{"field":"b"}}},
{"mark":{"type":"point","shape":"M0,0L0.86,2L-0.86,2Z","size":1225,"filled":true,"color":"#5b0b0b","opacity":1,"strokeWidth":0},"encoding":{"x":{"field":"d","type":"quantitative"},"y":{"field":"g","type":"quantitative"}}}
]
}
]
},
{"width":10,"height":207,"data":{"values":[{}]},"mark":"text","encoding":{"text":{"value":""}},"view":{"stroke":null}},
{
"width":1379,"height":578,
"title":{"text":"UK power hourly prices in September 2020","offset":18},
"data":{"name":"hp"},
"mark":{"type":"line","color":"#1f6b8d","strokeWidth":6,"strokeJoin":"round"},
"encoding":{
"x":{"field":"d","type":"quantitative","scale":{"domain":[0,30],"nice":false,"zero":false},
"axis":{"values":[0,5,10,15,20,25,30],"labelExpr":"datum.value==30?'1-Oct':(datum.value+1)+'-Sept'","labelPadding":29,"labelBaseline":"middle","labelFontSize":27,"title":"Source: Nordpool, Watt-Logic","titleX":-109,"titleY":94,"titleAlign":"left","titleBaseline":"alphabetic","titleFontStyle":"italic","titleFontWeight":"normal","titleFontSize":32,"titleColor":"#333333"}},
"y":{"field":"p","type":"quantitative","scale":{"domain":[0,200],"nice":false,"zero":false},
"axis":{"values":[0,20,40,60,80,100,120,140,160,180,200],"labelPadding":20,"title":"£/MWh","titleAngle":0,"titleAlign":"left","titleX":-82,"titleY":-31,"titleBaseline":"alphabetic","titleFontWeight":"bold","titleFontSize":26}}
}
},
{"width":10,"height":272,"data":{"values":[{}]},"mark":"text","encoding":{"text":{"value":""}},"view":{"stroke":null}},
{
"width":1379,"height":562,
"title":{"text":"UK imbalance prices in September 2020","offset":7},
"data":{"name":"ip"},
"mark":{"type":"line","color":"#1f6b8d","strokeWidth":5,"strokeJoin":"round"},
"encoding":{
"x":{"field":"d","type":"quantitative","scale":{"domain":[0,30],"nice":false,"zero":false},
"axis":{"values":[0,5,10,15,20,25,30],"labelExpr":"datum.value==30?'1-Oct':(datum.value+1)+'-Sept'","labelPadding":38,"labelBaseline":"middle","labelFontSize":27,"title":"Source: Elexon, Watt-Logic","titleX":-109,"titleY":99,"titleAlign":"left","titleBaseline":"alphabetic","titleFontStyle":"italic","titleFontWeight":"normal","titleFontSize":32,"titleColor":"#333333"}},
"y":{"field":"p","type":"quantitative","scale":{"domain":[-100,600],"nice":false,"zero":false},
"axis":{"values":[-100,0,100,200,300,400,500,600],"labelExpr":"replace(format(datum.value, ','), '\u2212', '-')","labelPadding":20,"title":"£/MWh","titleAngle":0,"titleAlign":"left","titleX":-81,"titleY":-32,"titleBaseline":"alphabetic","titleFontWeight":"bold","titleFontSize":26}}
}
}
]
},
{
"spacing":0,
"vconcat":[
{"width":417,"height":520,"data":{"values":[{}]},"mark":"text","encoding":{"text":{"value":""}},"view":{"stroke":null}},
{
"width":417,"height":1539,
"view":{"fill":"#d4e5e8","stroke":null},
"data":{"values":[
{"n":0,"t":"Coal ran approximately"},{"n":1,"t":"one third of the time in"},{"n":2,"t":"September, contributing"},{"n":3,"t":"up to 7.6% of total"},{"n":4,"t":"demand"},
{"n":7,"t":"Price spikes in the"},{"n":8,"t":"hourly market"},{"n":9,"t":"coincided with the use"},{"n":10,"t":"of coal indicating the"},{"n":11,"t":"need for all available"},{"n":12,"t":"assets to respond to"},{"n":13,"t":"market tightness"},
{"n":16,"t":"A Capacity Market"},{"n":17,"t":"Notice was issued on"},{"n":18,"t":"15 September (and later"},{"n":19,"t":"cancelled) due to"},{"n":20,"t":"capacity shortages"},{"n":21,"t":"across Europe"},
{"n":25,"t":"This was accompanied"},{"n":26,"t":"by price spikes in both"},{"n":27,"t":"the within day and"},{"n":28,"t":"imbalance markets"},
{"n":32,"t":"September also saw"},{"n":33,"t":"some modest negative"},{"n":34,"t":"pricing on 12 September"},{"n":35,"t":"when prices briefly"},{"n":36,"t":"dropped to -£5 /MWh"}
]},
"mark":{"type":"text","align":"left","baseline":"middle","font":"DejaVu Sans","fontSize":30,"color":"#111111"},
"encoding":{
"x":{"datum":0,"type":"quantitative","scale":{"domain":[-0.0448,0.9552],"nice":false,"zero":false},"axis":null},
"y":{"field":"n","type":"quantitative","scale":{"domain":[-1.4,37.78],"reverse":true,"nice":false,"zero":false},"axis":null},
"text":{"field":"t"}
}
}
]
}
],
"config":{
"font":"Lato",
"view":{"stroke":"#d9d9d9","strokeWidth":2},
"axis":{"domain":false,"ticks":false,"grid":true,"gridColor":"#d9d9d9","gridWidth":2,"labelFont":"Lato","labelFontSize":26,"labelColor":"#111111","titleFont":"Lato","titleColor":"#111111","labelOverlap":false,"labelFlush":false},
"title":{"anchor":"start","frame":"group","dx":-112,"font":"Lato","fontSize":37,"fontWeight":"bold","color":"#111111"}
}
}
